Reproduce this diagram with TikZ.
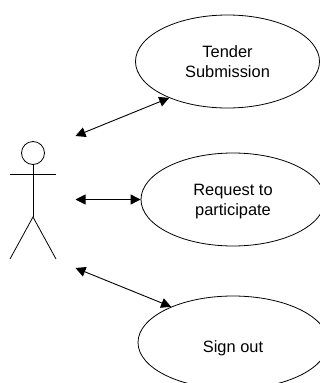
\documentclass[tikz,border=0pt]{standalone}
\usepackage{fontspec}
\setmainfont{Liberation Sans}
\usetikzlibrary{shapes.geometric,arrows.meta}
\tikzset{
	usecase/.style={draw, ellipse, inner sep=0pt, line width=0.8pt, align=center, font=\fontsize{16.4}{20}\selectfont},
	caption/.style={inner sep=0pt, align=center, font=\fontsize{16.4}{20}\selectfont},
	actor/.style={line width=0.8pt},
	link/.style={line width=0.9pt, >={Stealth[length=10pt,width=10pt,inset=0pt]}, <->}
}
\begin{document}
	\begin{tikzpicture}[x=1pt,y=-1pt]
		\clip (0,0) rectangle (320,383);

		% draw the three use cases
		\node[usecase, minimum width=184pt, minimum height=93pt] (tender) at (227.5,61.5) {Tender\\Submission};
		\node[usecase, minimum width=184pt, minimum height=93pt] (request) at (233,199.5) {};
		\node[caption] (requestlabel) at (233,202) {Request to\\participate};
		\node[usecase, minimum width=190pt, minimum height=93pt] (signout) at (233,342.5) {};
		\node[caption] (signoutlabel) at (233,348) {Sign out};

		% draw the actor
		\node[draw, circle, actor, minimum size=23pt, inner sep=0pt] (head) at (33,153) {};
		\coordinate (hip) at (33,217);
		\coordinate (handl) at (10,174);
		\coordinate (handr) at (56,174);
		\coordinate (footl) at (10,259);
		\coordinate (footr) at (56,259);
		\draw[actor] (head) -- (hip);
		\draw[actor] (handl) -- (handr);
		\draw[actor] (footl) -- (hip) -- (footr);

		% draw the links between actor and use cases
		\coordinate (linktop) at (75.5,136);
		\coordinate (linkmid) at (75.5,199.5);
		\coordinate (linkbot) at (75.5,268);
		\draw[link] (linktop) -- (tender.212);
		\draw[link] (linkmid) -- (request.west);
		\draw[link] (linkbot) -- (signout.150);
	\end{tikzpicture}
\end{document}
